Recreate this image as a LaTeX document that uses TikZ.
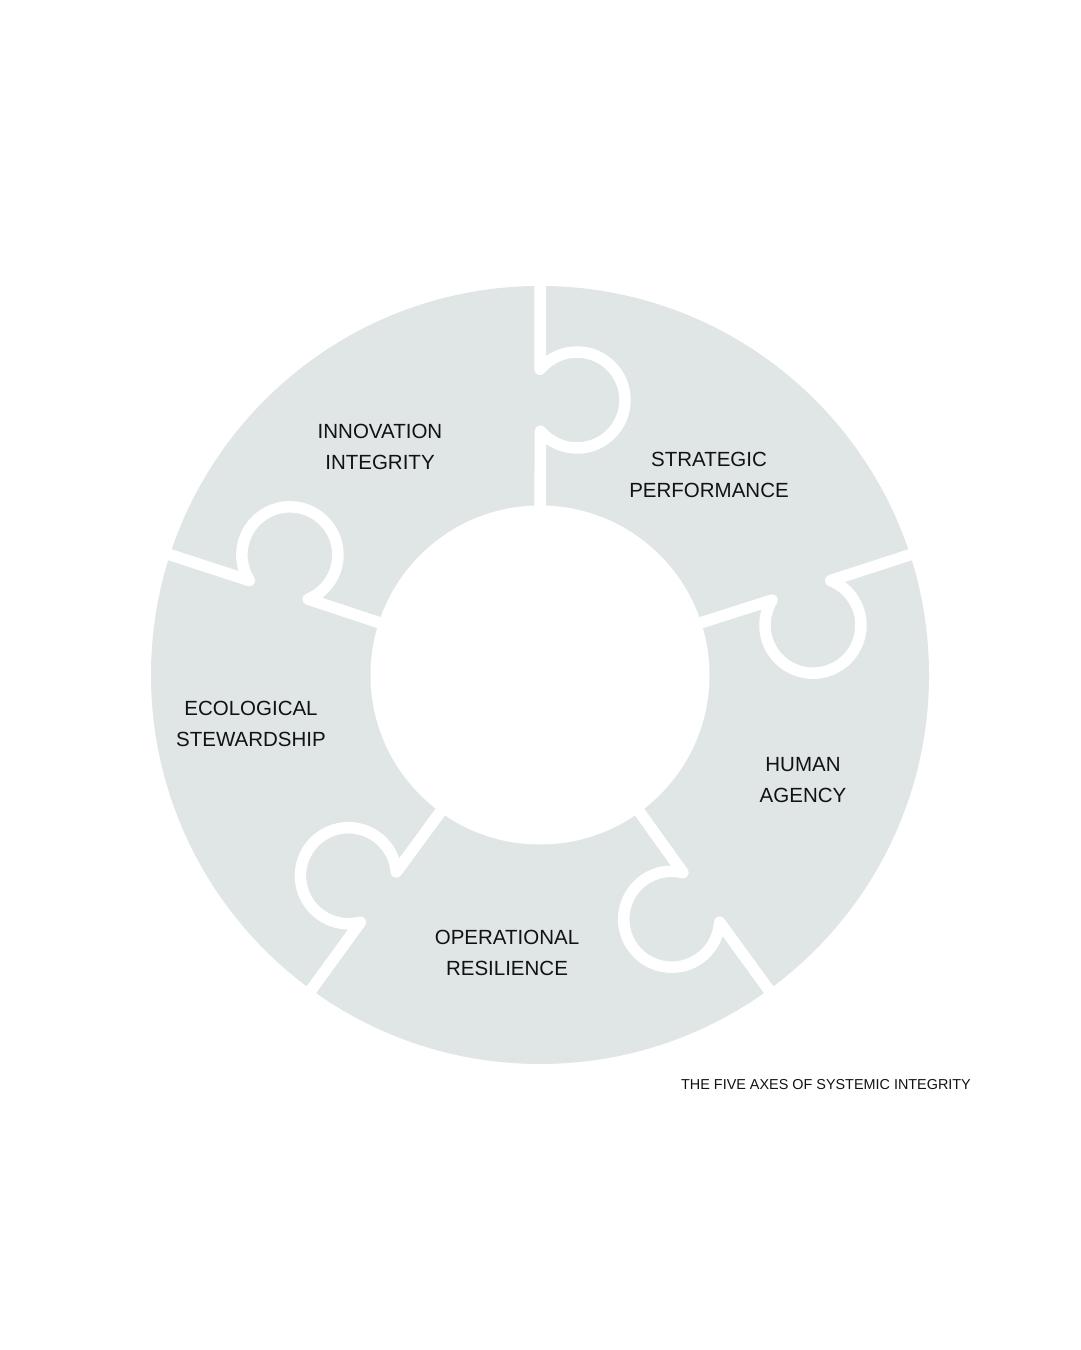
\documentclass[tikz,border=0pt]{standalone}
\usepackage{fontspec}
\setmainfont{Liberation Sans}
\definecolor{ringgrey}{RGB}{223,230,229}
\definecolor{ink}{RGB}{18,18,18}
\tikzset{
  ringfill/.style={fill=ringgrey},
  cutline/.style={draw=white, line width=11.5pt, line join=round, line cap=butt},
  lbl/.style={align=center, text=ink, inner sep=0pt, font=\fontsize{20.5}{31}\selectfont},
  captiontext/.style={text=ink, inner sep=0pt, font=\fontsize{14.4}{17}\selectfont}
}
\newcommand{\knobcut}[1]{%
  \begin{scope}[shift={(540,675)}, rotate=#1]
    \draw[cutline] (400,0) -- (305.58,0)
      arc[start angle=50.43, end angle=-229.57, radius=48pt] -- (160,0);
  \end{scope}}
\begin{document}
\begin{tikzpicture}[x=1pt,y=1pt]
\useasboundingbox (0,0) rectangle (1080,1350);
\fill[white] (0,0) rectangle (1080,1350);
\coordinate (c) at (540,675);
\fill[ringfill] (c) circle[radius=389pt];
\fill[white] (c) circle[radius=169.5pt];
\knobcut{90}
\knobcut{18}
\knobcut{-54}
\knobcut{-126}
\knobcut{162}
\node[lbl] (inn) at (380,903) {INNOVATION\\INTEGRITY};
\node[lbl] (str) at (709,875) {STRATEGIC\\PERFORMANCE};
\node[lbl] (hum) at (803,569.5) {HUMAN\\AGENCY};
\node[lbl] (ope) at (507,397.5) {OPERATIONAL\\RESILIENCE};
\node[lbl] (eco) at (251,626) {ECOLOGICAL\\STEWARDSHIP};
\node[captiontext] (title) at (826,265) {THE FIVE AXES OF SYSTEMIC INTEGRITY};
\end{tikzpicture}
\end{document}
